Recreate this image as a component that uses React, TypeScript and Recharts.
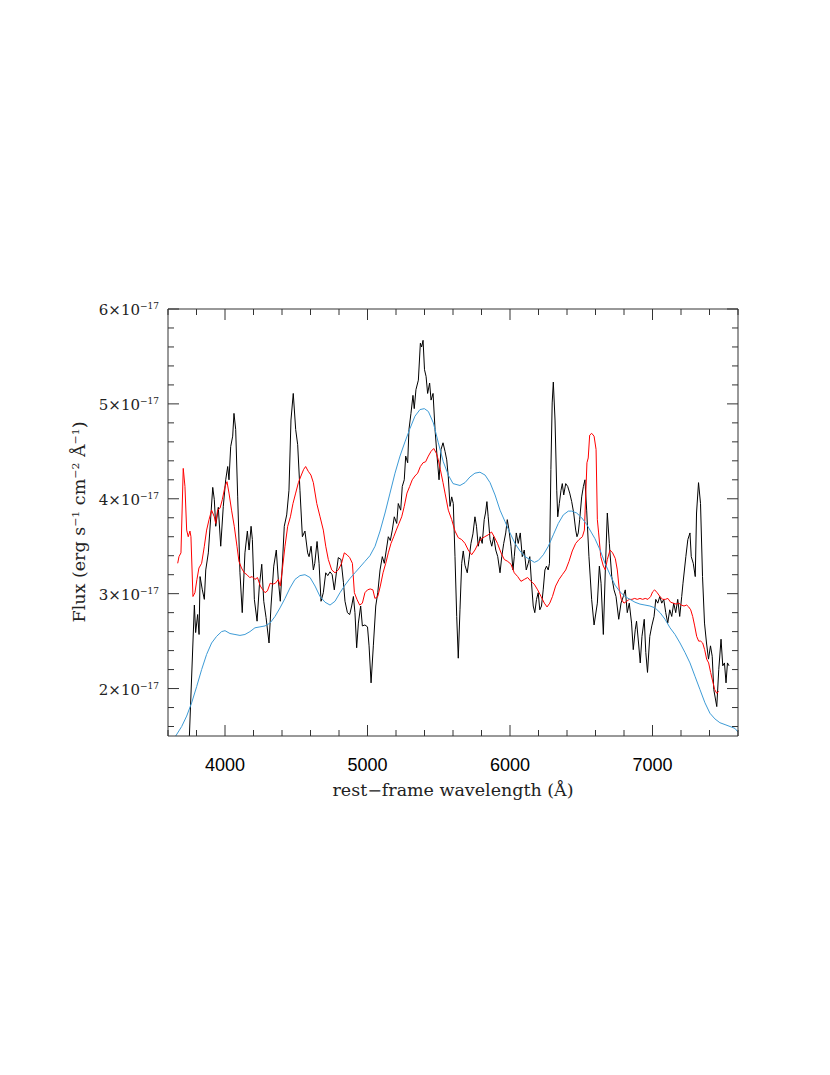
import { LineChart, Line, XAxis, YAxis } from "recharts";

// observed spectrum (black), flux in units of 1e-17 erg/s/cm2/A
const obsWave = [
  3745, 3785, 3794, 3808, 3818, 3825, 3841, 3855, 3865, 3883, 3914, 3925, 3935, 3953, 3970, 3988,
  4005, 4019, 4028, 4040, 4054, 4063, 4075, 4089, 4105, 4121, 4140, 4157, 4169, 4183, 4192, 4206,
  4225, 4241, 4258, 4272, 4288, 4309, 4323, 4342, 4360, 4374, 4388, 4402, 4416, 4433, 4449, 4463,
  4479, 4496, 4510, 4526, 4543, 4561, 4580, 4590, 4604, 4620, 4630, 4646, 4660, 4674, 4690, 4707,
  4721, 4737, 4752, 4767, 4784, 4795, 4814, 4831, 4842, 4859, 4875, 4889, 4901, 4912, 4924, 4936,
  4952, 4964, 4982, 5000, 5011, 5025, 5041, 5058, 5072, 5088, 5104, 5118, 5132, 5146, 5160, 5174,
  5188, 5205, 5216, 5233, 5244, 5258, 5268, 5282, 5291, 5305, 5319, 5328, 5340, 5357, 5371, 5380,
  5390, 5400, 5411, 5422, 5436, 5446, 5460, 5474, 5488, 5502, 5516, 5530, 5544, 5556, 5567, 5579,
  5591, 5602, 5614, 5626, 5637, 5649, 5661, 5672, 5684, 5700, 5712, 5726, 5740, 5754, 5765, 5777,
  5791, 5805, 5819, 5828, 5838, 5847, 5860, 5872, 5886, 5900, 5914, 5930, 5942, 5956, 5970, 5981,
  5993, 6007, 6021, 6030, 6044, 6058, 6072, 6086, 6100, 6114, 6128, 6139, 6151, 6163, 6174, 6186,
  6198, 6209, 6221, 6233, 6245, 6256, 6268, 6277, 6287, 6296, 6304, 6316, 6328, 6335, 6346, 6358,
  6367, 6377, 6391, 6405, 6419, 6433, 6447, 6461, 6470, 6479, 6489, 6503, 6515, 6526, 6538, 6554,
  6573, 6590, 6613, 6627, 6639, 6655, 6669, 6683, 6697, 6714, 6730, 6744, 6763, 6779, 6795, 6809,
  6823, 6837, 6853, 6865, 6879, 6888, 6902, 6914, 6926, 6942, 6953, 6965, 6981, 6995, 7011, 7023,
  7037, 7051, 7065, 7079, 7093, 7107, 7121, 7135, 7149, 7163, 7177, 7191, 7205, 7214, 7234, 7248,
  7263, 7272, 7286, 7300, 7309, 7323, 7337, 7351, 7365, 7379, 7393, 7407, 7419, 7430, 7451, 7465,
  7481, 7493, 7505, 7516, 7526, 7537,
];
const obsFlux = [
  1.3, 2.88, 2.59, 2.78, 2.57, 3.18, 3.04, 2.94, 3.25, 3.43, 4.12, 3.99, 3.71, 3.91, 3.5, 3.92,
  4.2, 4.34, 4.2, 4.55, 4.66, 4.9, 4.73, 4.02, 3.22, 2.8, 3.43, 3.66, 3.46, 3.71, 3.57, 2.94,
  2.71, 3.08, 3.31, 2.92, 2.75, 2.48, 2.87, 3.29, 3.46, 3.15, 2.92, 3.29, 3.71, 3.83, 4.09, 4.83,
  5.11, 4.73, 4.57, 4.09, 3.6, 3.66, 3.43, 3.39, 3.5, 3.25, 3.32, 3.55, 3.32, 2.92, 3.01, 3.22,
  3.19, 3.23, 3.2, 3.04, 3.25, 3.38, 3.36, 3.12, 2.92, 2.8, 2.78, 2.87, 2.97, 2.8, 2.43, 2.69,
  2.87, 2.66, 2.67, 2.65, 2.45, 2.06, 2.45, 2.87, 3.01, 3.25, 3.39, 3.32, 3.46, 3.6, 3.56, 3.67,
  3.81, 3.74, 3.95, 3.88, 4.13, 4.2, 4.45, 4.38, 4.73, 4.9, 5.09, 4.95, 5.15, 5.25, 5.64, 5.6,
  5.67, 5.36, 5.29, 5.11, 5.22, 5.04, 5.11, 4.73, 4.45, 4.2, 4.52, 4.59, 4.5, 4.41, 4.23, 3.92,
  4.02, 3.95, 3.39, 2.76, 2.32, 2.83, 3.32, 3.45, 3.3, 3.22, 3.36, 3.53, 3.63, 3.81, 3.71, 3.5,
  3.6, 3.53, 3.78, 3.85, 3.97, 3.81, 3.57, 3.5, 3.6, 3.46, 3.39, 3.22, 3.39, 3.53, 3.64, 3.78,
  3.67, 3.5, 3.25, 3.39, 3.64, 3.53, 3.64, 3.39, 3.46, 3.25, 3.32, 3.39, 3.11, 2.87, 2.8, 2.94,
  3.01, 2.83, 2.87, 3.04, 3.25, 3.29, 3.25, 3.32, 4.31, 5.01, 5.23, 4.83, 4.09, 3.81, 3.95, 4.09,
  4.16, 4.04, 4.16, 4.13, 4.06, 3.97, 3.85, 3.67, 3.6, 3.64, 3.78, 4.02, 4.13, 4.2, 3.88, 3.39,
  2.94, 2.67, 2.9, 3.29, 3.11, 2.57, 3.25, 3.85, 3.53, 3.18, 3.04, 2.97, 2.73, 2.9, 2.97, 3.04,
  2.8, 2.9, 2.69, 2.41, 2.62, 2.71, 2.48, 2.27, 2.55, 2.73, 2.38, 2.17, 2.55, 2.66, 2.76, 2.94,
  2.9, 2.97, 2.9, 2.94, 2.8, 2.69, 2.83, 2.76, 2.9, 2.8, 2.94, 2.76, 2.97, 3.11, 3.39, 3.57,
  3.64, 3.39, 3.32, 3.18, 3.85, 4.17, 3.95, 3.18, 2.69, 2.48, 2.31, 2.45, 2.34, 1.99, 1.81, 2.2,
  2.52, 2.24, 2.27, 2.06, 2.27, 2.24,
];

// comparison spectrum (red)
const cmpWave = [
  3668, 3677, 3691, 3707, 3719, 3731, 3742, 3754, 3761, 3775, 3789, 3803, 3817, 3836, 3855, 3871,
  3888, 3906, 3925, 3935, 3948, 3965, 3981, 4000, 4014, 4028, 4046, 4065, 4084, 4098, 4116, 4135,
  4154, 4173, 4191, 4210, 4228, 4248, 4266, 4281, 4298, 4317, 4335, 4354, 4374, 4388, 4402, 4421,
  4440, 4459, 4477, 4496, 4515, 4533, 4552, 4566, 4584, 4603, 4620, 4644, 4667, 4690, 4707, 4725,
  4749, 4772, 4795, 4818, 4837, 4856, 4875, 4894, 4908, 4926, 4945, 4964, 4982, 5000, 5019, 5038,
  5052, 5072, 5090, 5109, 5128, 5146, 5165, 5184, 5202, 5221, 5240, 5258, 5277, 5296, 5314, 5333,
  5352, 5371, 5390, 5408, 5427, 5446, 5465, 5483, 5497, 5511, 5530, 5544, 5567, 5591, 5614, 5637,
  5661, 5684, 5707, 5731, 5754, 5777, 5800, 5823, 5847, 5870, 5889, 5912, 5937, 5960, 5984, 6007,
  6030, 6054, 6077, 6100, 6124, 6147, 6170, 6194, 6218, 6241, 6260, 6279, 6298, 6320, 6344, 6367,
  6391, 6414, 6437, 6461, 6484, 6508, 6522, 6531, 6540, 6549, 6559, 6573, 6590, 6604, 6613, 6622,
  6637, 6655, 6669, 6683, 6702, 6720, 6739, 6753, 6767, 6781, 6800, 6819, 6837, 6856, 6875, 6893,
  6912, 6931, 6949, 6968, 6987, 7001, 7015, 7033, 7052, 7071, 7090, 7108, 7127, 7146, 7165, 7184,
  7202, 7221, 7240, 7254, 7268, 7282, 7296, 7310, 7324, 7338, 7352, 7366, 7380, 7394, 7408, 7422,
  7436, 7451, 7465,
];
const cmpFlux = [
  3.32, 3.39, 3.43, 4.32, 4.13, 3.67, 3.6, 3.66, 3.6, 2.97, 3.01, 3.15, 3.27, 3.32, 3.5, 3.67,
  3.78, 3.88, 3.81, 3.74, 3.88, 3.9, 3.99, 4.13, 4.18, 4.06, 3.88, 3.71, 3.5, 3.34, 3.27, 3.22,
  3.2, 3.17, 3.18, 3.15, 3.17, 3.08, 3.04, 3.01, 3.03, 3.11, 3.1, 3.11, 3.15, 3.08, 3.25, 3.5,
  3.71, 3.81, 3.95, 4.06, 4.17, 4.24, 4.31, 4.34, 4.29, 4.25, 4.17, 3.95, 3.81, 3.67, 3.5, 3.36,
  3.25, 3.22, 3.25, 3.32, 3.43, 3.41, 3.38, 3.32, 3.01, 2.94, 2.88, 2.9, 3.01, 3.04, 3.05, 3.04,
  2.95, 2.97, 3.08, 3.22, 3.32, 3.43, 3.53, 3.6, 3.67, 3.74, 3.81, 3.92, 4.06, 4.13, 4.2, 4.24,
  4.27, 4.34, 4.38, 4.39, 4.45, 4.5, 4.53, 4.48, 4.41, 4.31, 4.17, 4.06, 3.88, 3.78, 3.66, 3.59,
  3.57, 3.53, 3.46, 3.41, 3.46, 3.53, 3.58, 3.6, 3.62, 3.65, 3.6, 3.53, 3.43, 3.36, 3.34, 3.31,
  3.22, 3.18, 3.13, 3.15, 3.17, 3.13, 3.1, 3.04, 2.97, 2.9, 2.86, 2.9, 2.97, 3.08, 3.15, 3.2,
  3.25, 3.34, 3.45, 3.53, 3.57, 3.6, 3.67, 4.02, 4.38, 4.43, 4.67, 4.69, 4.66, 4.52, 3.78, 3.64,
  3.39, 3.29, 3.25, 3.36, 3.46, 3.43, 3.37, 3.25, 3.04, 2.94, 2.9, 2.92, 2.94, 2.94, 2.95, 2.94,
  2.95, 2.94, 2.95, 2.94, 2.97, 3.02, 3.04, 3.01, 2.97, 2.94, 2.94, 2.95, 2.91, 2.9, 2.89, 2.9,
  2.88, 2.87, 2.88, 2.86, 2.83, 2.76, 2.66, 2.55, 2.5, 2.5, 2.48, 2.41, 2.31, 2.27, 2.17, 2.08,
  1.99, 1.95, 1.97,
];

// smooth model (blue)
const modelWave = [
  3630, 3654, 3696, 3731, 3766, 3801, 3836, 3871, 3906, 3941, 3976, 4000, 4035, 4070, 4105, 4140,
  4175, 4210, 4245, 4281, 4316, 4351, 4386, 4421, 4456, 4491, 4526, 4561, 4597, 4632, 4667, 4702,
  4737, 4772, 4807, 4842, 4877, 4912, 4947, 4982, 5017, 5053, 5088, 5123, 5158, 5193, 5228, 5263,
  5298, 5333, 5368, 5399, 5427, 5462, 5497, 5532, 5567, 5600, 5649, 5684, 5719, 5754, 5789, 5825,
  5860, 5895, 5930, 5965, 6000, 6035, 6070, 6105, 6140, 6171, 6199, 6234, 6269, 6304, 6339, 6374,
  6409, 6433, 6468, 6503, 6538, 6573, 6596, 6632, 6667, 6702, 6737, 6772, 6807, 6842, 6877, 6912,
  6947, 6982, 7018, 7053, 7088, 7123, 7158, 7193, 7228, 7263, 7298, 7333, 7368, 7403, 7438, 7473,
  7509, 7544, 7579, 7600,
];
const modelFlux = [
  1.42, 1.5, 1.6, 1.71, 1.85, 2.02, 2.2, 2.36, 2.48, 2.55, 2.6, 2.61, 2.58, 2.57, 2.56, 2.57,
  2.6, 2.64, 2.65, 2.66, 2.69, 2.76, 2.85, 2.95, 3.06, 3.15, 3.19, 3.2, 3.17, 3.08, 2.97, 2.91,
  2.88, 2.92, 3.01, 3.09, 3.16, 3.22, 3.28, 3.34, 3.4, 3.5, 3.66, 3.85, 4.06, 4.27, 4.45, 4.6,
  4.74, 4.87, 4.94, 4.95, 4.92, 4.8, 4.59, 4.39, 4.25, 4.16, 4.14, 4.17, 4.23, 4.27, 4.28, 4.25,
  4.17, 4.04, 3.88, 3.76, 3.64, 3.53, 3.45, 3.39, 3.36, 3.33, 3.35, 3.41, 3.5, 3.62, 3.74, 3.83,
  3.87, 3.87, 3.85, 3.8, 3.73, 3.64, 3.58, 3.46, 3.32, 3.2, 3.09, 3.02, 2.97, 2.94, 2.91, 2.89,
  2.88, 2.87, 2.85, 2.8, 2.73, 2.64, 2.57, 2.48, 2.38, 2.27, 2.13, 1.99, 1.85, 1.74, 1.68, 1.64,
  1.62, 1.6, 1.58, 1.54,
];

const xTicks = [
  3600, 3800, 4000, 4200, 4400, 4600, 4800, 5000, 5200, 5400, 5600, 5800, 6000, 6200, 6400, 6600,
  6800, 7000, 7200, 7400, 7600,
];
const xMajor = [4000, 5000, 6000, 7000];
const yTicks = [
  1.6, 1.8, 2, 2.2, 2.4, 2.6, 2.8, 3, 3.2, 3.4, 3.6, 3.8, 4, 4.2, 4.4, 4.6, 4.8, 5, 5.2, 5.4, 5.6,
  5.8, 6,
];
const yMajor = [2, 3, 4, 5, 6];

const zip = (w: number[], f: number[]) => w.map((v, i) => ({ w: v, f: f[i] }));
const obsData = zip(obsWave, obsFlux);
const cmpData = zip(cmpWave, cmpFlux);
const modelData = zip(modelWave, modelFlux);

const FRAME = "#333";
const SERIF = "'DejaVu Serif', 'Liberation Serif', serif";
const SANS = "'Liberation Sans', Arial, sans-serif";
const isMajor = (list: number[], v: number) => list.some((m) => Math.abs(m - v) < 1e-6);

function BottomTick(props: any) {
  const { x, y, payload } = props;
  const major = isMajor(xMajor, payload.value);
  return (
    <g>
      <line x1={x} y1={y} x2={x} y2={y - (major ? 11 : 6)} stroke={FRAME} />
      {major && (
        <text x={x} y={y + 35} textAnchor="middle" fontFamily={SANS} fontSize={18} fill="#000">
          {payload.value}
        </text>
      )}
    </g>
  );
}

function TopTick(props: any) {
  const { x, y, payload } = props;
  const major = isMajor(xMajor, payload.value);
  return <line x1={x} y1={y} x2={x} y2={y + (major ? 11 : 6)} stroke={FRAME} />;
}

function LeftTick(props: any) {
  const { x, y, payload } = props;
  const major = isMajor(yMajor, payload.value);
  return (
    <g>
      <line x1={x} y1={y} x2={x + (major ? 11 : 6)} y2={y} stroke={FRAME} />
      {major && (
        <text x={x - 9} y={y + 6} textAnchor="end" fontFamily={SERIF} fontSize={15} fill="#222">
          {payload.value}×10
          <tspan fontSize={9} dy={-6}>−17</tspan>
        </text>
      )}
    </g>
  );
}

function RightTick(props: any) {
  const { x, y, payload } = props;
  const major = isMajor(yMajor, payload.value);
  return <line x1={x} y1={y} x2={x - (major ? 11 : 6)} y2={y} stroke={FRAME} />;
}

export default function App() {
  return (
    <div style={{ position: "absolute", left: 0, top: 0, width: 830, height: 1075, background: "#fff" }}>
      <LineChart width={830} height={1075} margin={{ top: 308, right: 91, bottom: 338, left: 167 }}>
        <XAxis
          xAxisId="b"
          type="number"
          dataKey="w"
          domain={[3600, 7600]}
          allowDataOverflow
          ticks={xTicks}
          interval={0}
          height={1}
          tickSize={0}
          tickMargin={0}
          tickLine={false}
          axisLine={{ stroke: FRAME }}
          tick={<BottomTick />}
        />
        <XAxis
          xAxisId="t"
          orientation="top"
          type="number"
          dataKey="w"
          domain={[3600, 7600]}
          allowDataOverflow
          ticks={xTicks}
          interval={0}
          height={1}
          tickSize={0}
          tickMargin={0}
          tickLine={false}
          axisLine={{ stroke: FRAME }}
          tick={<TopTick />}
        />
        <YAxis
          yAxisId="l"
          type="number"
          domain={[1.5, 6]}
          allowDataOverflow
          ticks={yTicks}
          interval={0}
          width={1}
          tickSize={0}
          tickMargin={0}
          tickLine={false}
          axisLine={{ stroke: FRAME }}
          tick={<LeftTick />}
        />
        <YAxis
          yAxisId="r"
          orientation="right"
          type="number"
          domain={[1.5, 6]}
          allowDataOverflow
          ticks={yTicks}
          interval={0}
          width={1}
          tickSize={0}
          tickMargin={0}
          tickLine={false}
          axisLine={{ stroke: FRAME }}
          tick={<RightTick />}
        />
        <Line
          xAxisId="b"
          yAxisId="l"
          data={obsData}
          dataKey="f"
          type="linear"
          stroke="#000"
          strokeWidth={1}
          dot={false}
          isAnimationActive={false}
        />
        <Line
          xAxisId="b"
          yAxisId="l"
          data={cmpData}
          dataKey="f"
          type="linear"
          stroke="#ff0000"
          strokeWidth={1}
          dot={false}
          isAnimationActive={false}
        />
        <Line
          xAxisId="b"
          yAxisId="l"
          data={modelData}
          dataKey="f"
          type="linear"
          stroke="#3d9bd6"
          strokeWidth={1}
          dot={false}
          isAnimationActive={false}
        />
      </LineChart>
      <svg
        width={830}
        height={1075}
        style={{ position: "absolute", left: 0, top: 0, pointerEvents: "none" }}
      >
        <text
          x={453}
          y={796}
          textAnchor="middle"
          fontFamily={SERIF}
          fontSize={16}
          fill="#222"
          textLength={241}
          lengthAdjust="spacingAndGlyphs"
        >
          rest−frame wavelength (Å)
        </text>
        <text
          x={85}
          y={522}
          transform="rotate(-90 85 522)"
          textAnchor="middle"
          fontFamily={SERIF}
          fontSize={16}
          fill="#222"
          textLength={201}
          lengthAdjust="spacingAndGlyphs"
        >
          Flux (erg s<tspan fontSize={10} dy={-6}>−1</tspan>
          <tspan dy={6}> cm</tspan>
          <tspan fontSize={10} dy={-6}>−2</tspan>
          <tspan dy={6}> Å</tspan>
          <tspan fontSize={10} dy={-6}>−1</tspan>
          <tspan dy={6}>)</tspan>
        </text>
      </svg>
    </div>
  );
}
